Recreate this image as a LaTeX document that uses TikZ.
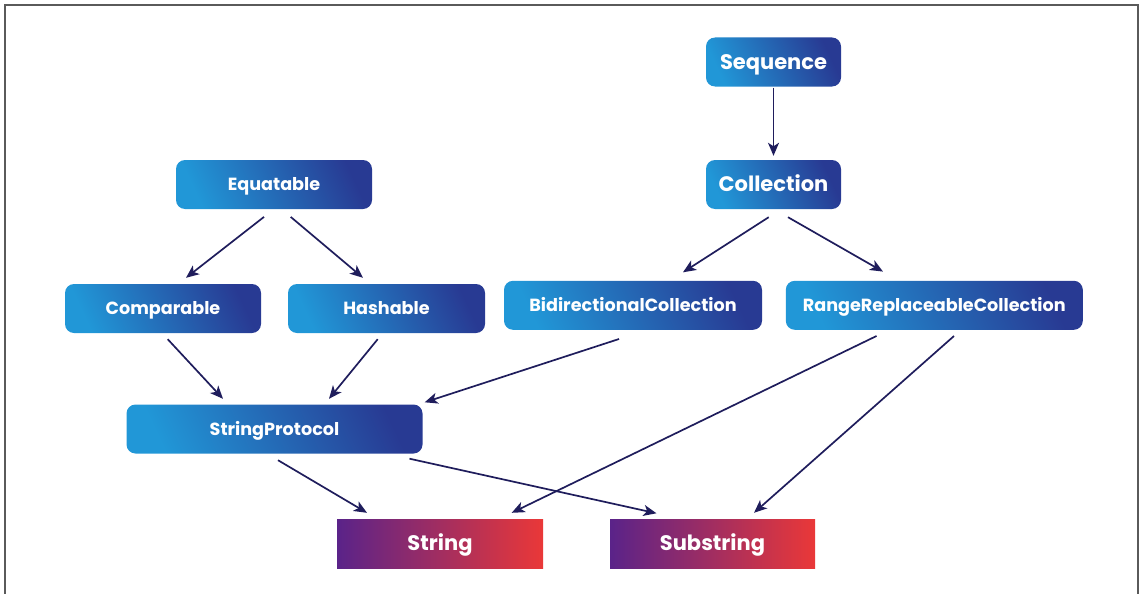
\documentclass[tikz,border=0pt]{standalone}
\usepackage{fontspec}
\setmainfont{Poppins}
\usetikzlibrary{arrows.meta,calc}

\definecolor{boxlight}{HTML}{2197D7}
\definecolor{boxdark}{HTML}{283A93}
\definecolor{leafpurple}{HTML}{5A2389}
\definecolor{leafmid}{HTML}{B02A5E}
\definecolor{leafred}{HTML}{EA3838}
\definecolor{arrowink}{HTML}{1F1D5C}
\definecolor{framegray}{HTML}{5A5A5A}

\tikzset{
  proto/.style={rounded corners=9pt, minimum height=49pt, inner sep=0pt,
    text height=12.3pt, text depth=0pt,
    bottom color=boxlight, top color=boxdark, shading angle=-65,
    text=white, font=\bfseries\fontsize{17.6}{17.6}\selectfont},
  bigproto/.style={proto, text height=14.7pt,
    font=\bfseries\fontsize{21}{21}\selectfont},
  leaf/.style={minimum height=49pt, inner sep=0pt,
    text height=14.7pt, text depth=0pt,
    left color=leafpurple, middle color=leafmid, right color=leafred,
    text=white, font=\bfseries\fontsize{21}{21}\selectfont},
  arr/.style={draw=arrowink, line width=1.7pt,
    -{Stealth[length=13pt, width=11pt, inset=3.5pt]}}
}

\begin{document}
\begin{tikzpicture}[x=1pt, y=-1pt]
  \useasboundingbox (0,0) rectangle (1143,594);
  % open frame
  \draw[framegray, line width=1.4pt] (5,594) -- (5,5) -- (1138,5) -- (1138,594);

  % protocols
  \node[bigproto, minimum width=135pt] (seq) at (773.5,62)    {Sequence};
  \node[bigproto, minimum width=135pt] (col) at (773.5,184.5) {Collection};
  \node[proto, minimum width=196pt] (eq)  at (274,184.5)   {Equatable};
  \node[proto, minimum width=196pt] (cmp) at (163,308.5)   {Comparable};
  \node[proto, minimum width=197pt] (hsh) at (386.5,308.5) {Hashable};
  \node[proto, minimum width=258pt] (bid) at (633,305.3)   {BidirectionalCollection};
  \node[proto, minimum width=297pt] (rrc) at (934.3,305.3) {RangeReplaceableCollection};
  \node[proto, minimum width=296pt] (sp)  at (274.5,429)   {StringProtocol};

  % concrete types
  \node[leaf, minimum width=206pt] (str) at (440,543.5)   {String};
  \node[leaf, minimum width=205pt] (sub) at (712.5,543.5) {Substring};

  % conformances
  \draw[arr] ($(seq.south)+(0,1)$) -- ($(col.north)+(0,-4)$);
  \draw[arr] ($(eq.south)+(-10,7.7)$) -- ($(cmp.north)+(23,-6)$);
  \draw[arr] ($(eq.south)+(16.7,7.7)$) -- ($(hsh.north)+(-23.5,-6)$);
  \draw[arr] ($(col.south)+(-4.8,8)$) -- ($(bid.north)+(50,-8.3)$);
  \draw[arr] ($(col.south)+(14.5,8)$) -- ($(rrc.north)+(-51.3,-9)$);
  \draw[arr] ($(cmp.south)+(4.7,6)$) -- ($(sp.north)+(-51.5,-5.5)$);
  \draw[arr] ($(hsh.south)+(-8.8,6)$) -- ($(sp.north)+(54.5,-5.5)$);
  \draw[arr] ($(bid.south)+(-14,9)$) -- ($(sp.north east)+(2,-2)$);
  \draw[arr] ($(sp.south)+(3.5,6.5)$) -- ($(str.north)+(-73,-6)$);
  \draw[arr] ($(sp.south)+(135,5)$) -- ($(sub.north)+(-56,-5.5)$);
  \draw[arr] ($(rrc.south)+(-57.8,6)$) -- ($(str.north)+(71.7,-6)$);
  \draw[arr] ($(rrc.south)+(19.7,6)$) -- ($(sub.north)+(41.5,-6)$);
\end{tikzpicture}
\end{document}
